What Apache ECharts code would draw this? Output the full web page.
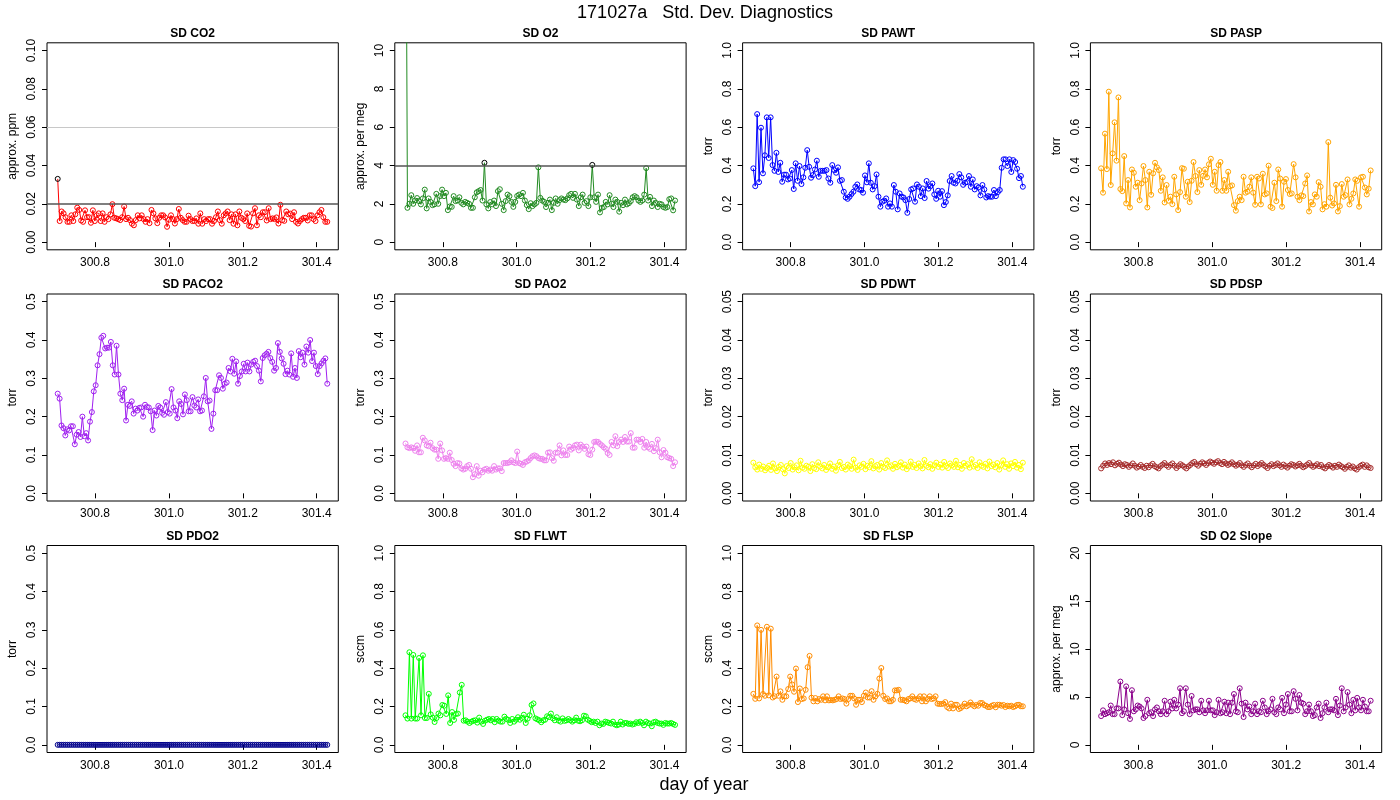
<!DOCTYPE html>
<html>
<head>
<meta charset="utf-8">
<script src="https://cdn.jsdelivr.net/npm/echarts@6/dist/echarts.min.js"></script>
<style>html,body{margin:0;padding:0;background:#fff}#c{width:1400px;height:800px}</style>
</head>
<body>
<div id="c"></div>
<script>
// ---- data ----
const tStart = 300.699, tEnd = 301.4286;   // first / last sample time (day of year)
const xTicks = [300.8, 301.0, 301.2, 301.4];

const co2 = [0.033,0.011,0.016,0.015,0.013,0.0106,0.0106,0.014,0.011,0.0145,0.018,0.0168,0.0113,0.0106,0.0166,0.013,0.013,0.0101,0.0166,0.011,0.014,0.015,0.011,0.015,0.0106,0.013,0.012,0.0145,0.0198,0.0127,0.0124,0.012,0.0115,0.013,0.0186,0.012,0.0127,0.0115,0.0096,0.0088,0.0115,0.014,0.0124,0.014,0.012,0.0106,0.012,0.0099,0.0168,0.015,0.0124,0.0099,0.0127,0.014,0.014,0.0129,0.008,0.0117,0.014,0.012,0.0097,0.012,0.0173,0.0127,0.0115,0.0106,0.0106,0.0138,0.012,0.011,0.011,0.0124,0.0096,0.015,0.0096,0.012,0.011,0.012,0.012,0.0096,0.011,0.013,0.016,0.0115,0.0096,0.014,0.015,0.016,0.0115,0.0145,0.0096,0.0145,0.0088,0.016,0.0127,0.012,0.011,0.015,0.0085,0.0081,0.015,0.0177,0.0088,0.014,0.013,0.0156,0.0156,0.0113,0.0177,0.012,0.0124,0.012,0.0129,0.0097,0.0195,0.0115,0.0111,0.016,0.0145,0.0149,0.012,0.0156,0.0106,0.0097,0.011,0.012,0.0127,0.0127,0.0113,0.014,0.014,0.012,0.011,0.014,0.0156,0.0168,0.013,0.0106,0.0106];
const co2Limits = [0.02, 0.0635];

const o2 = [25,1.79,2.0,2.45,2.0,2.17,2.3,2.14,1.97,2.28,2.74,1.76,2.28,2.1,1.93,1.97,2.52,2.0,2.4,2.74,2.4,2.57,1.67,1.86,1.84,2.4,2.14,2.17,2.34,2.05,1.97,2.1,2.05,2.0,1.79,1.79,2.34,2.6,2.66,2.72,2.17,4.14,1.97,1.76,2.09,1.97,2.17,1.88,2.66,2.76,2.0,1.67,2.14,2.48,2.4,2.1,1.84,2.1,2.41,2.48,2.4,2.57,2.17,1.93,1.72,2.03,1.88,1.97,2.05,3.9,2.31,2.17,2.1,1.83,2.05,2.22,1.67,2.05,2.28,2.0,2.19,2.28,2.22,2.19,2.28,2.45,2.52,2.31,2.52,2.22,1.88,2.34,2.48,2.05,2.14,1.88,2.34,4.03,2.34,2.1,2.48,1.55,1.79,1.83,2.1,1.97,2.45,2.0,1.83,2.22,2.1,1.59,2.05,1.93,2.22,1.97,2.03,2.14,2.34,2.4,2.34,2.17,2.1,2.17,2.48,3.86,2.17,2.36,1.88,2.17,2.05,1.83,2.0,1.97,1.83,1.79,1.83,2.24,2.28,1.66,2.17];
const o2Limits = [4];

const pawt = [0.385,0.292,0.668,0.313,0.597,0.359,0.453,0.651,0.439,0.651,0.402,0.372,0.466,0.366,0.414,0.315,0.352,0.352,0.327,0.332,0.376,0.277,0.411,0.32,0.397,0.303,0.338,0.388,0.48,0.393,0.336,0.35,0.379,0.425,0.341,0.372,0.372,0.372,0.376,0.332,0.31,0.402,0.376,0.362,0.39,0.32,0.324,0.263,0.233,0.226,0.237,0.251,0.263,0.289,0.301,0.275,0.272,0.258,0.348,0.312,0.411,0.31,0.275,0.292,0.353,0.237,0.185,0.211,0.216,0.228,0.185,0.202,0.185,0.298,0.263,0.171,0.254,0.237,0.233,0.219,0.153,0.225,0.275,0.28,0.211,0.301,0.289,0.24,0.28,0.23,0.319,0.279,0.292,0.306,0.249,0.226,0.268,0.237,0.266,0.193,0.209,0.244,0.319,0.345,0.31,0.306,0.32,0.355,0.338,0.299,0.31,0.313,0.345,0.289,0.327,0.275,0.292,0.285,0.244,0.298,0.275,0.233,0.24,0.237,0.237,0.272,0.24,0.261,0.272,0.388,0.432,0.432,0.397,0.432,0.366,0.428,0.418,0.383,0.334,0.345,0.289];

const pasp = [0.385,0.258,0.566,0.381,0.785,0.298,0.463,0.625,0.425,0.755,0.277,0.266,0.449,0.202,0.324,0.181,0.379,0.362,0.289,0.31,0.219,0.306,0.397,0.324,0.181,0.367,0.247,0.359,0.414,0.39,0.376,0.268,0.338,0.207,0.298,0.216,0.237,0.198,0.341,0.249,0.167,0.261,0.386,0.383,0.237,0.315,0.209,0.32,0.418,0.345,0.261,0.376,0.299,0.346,0.379,0.338,0.406,0.435,0.299,0.367,0.268,0.402,0.418,0.268,0.324,0.268,0.367,0.292,0.296,0.193,0.164,0.214,0.237,0.219,0.341,0.258,0.263,0.289,0.338,0.258,0.195,0.341,0.332,0.197,0.357,0.249,0.254,0.399,0.185,0.178,0.31,0.214,0.379,0.332,0.185,0.315,0.329,0.272,0.251,0.254,0.407,0.338,0.237,0.219,0.244,0.24,0.306,0.348,0.16,0.209,0.197,0.249,0.237,0.313,0.289,0.171,0.198,0.185,0.522,0.232,0.191,0.202,0.299,0.16,0.188,0.303,0.237,0.245,0.327,0.197,0.226,0.254,0.327,0.32,0.185,0.338,0.341,0.285,0.249,0.279,0.374];

const paco2 = [0.26,0.247,0.177,0.17,0.151,0.167,0.164,0.175,0.175,0.128,0.153,0.16,0.147,0.2,0.149,0.157,0.138,0.187,0.212,0.266,0.282,0.334,0.363,0.406,0.411,0.378,0.38,0.38,0.395,0.334,0.31,0.385,0.31,0.26,0.243,0.273,0.19,0.231,0.228,0.24,0.208,0.221,0.216,0.223,0.224,0.2,0.231,0.225,0.224,0.214,0.165,0.216,0.203,0.228,0.224,0.21,0.205,0.238,0.212,0.208,0.272,0.224,0.216,0.196,0.24,0.233,0.206,0.258,0.243,0.214,0.214,0.251,0.229,0.224,0.245,0.214,0.216,0.253,0.301,0.24,0.242,0.168,0.208,0.269,0.269,0.308,0.301,0.273,0.286,0.289,0.327,0.318,0.351,0.312,0.344,0.286,0.306,0.318,0.338,0.318,0.341,0.318,0.336,0.343,0.346,0.332,0.32,0.292,0.353,0.36,0.364,0.369,0.353,0.343,0.32,0.327,0.392,0.369,0.352,0.338,0.311,0.32,0.31,0.365,0.304,0.327,0.301,0.371,0.355,0.367,0.336,0.383,0.367,0.4,0.345,0.367,0.332,0.311,0.332,0.339,0.346,0.352,0.286];

const pao2 = [0.13,0.12,0.118,0.12,0.118,0.111,0.125,0.107,0.107,0.145,0.138,0.125,0.123,0.132,0.118,0.114,0.114,0.09,0.13,0.112,0.09,0.092,0.09,0.106,0.087,0.077,0.071,0.079,0.078,0.065,0.062,0.064,0.071,0.074,0.064,0.042,0.05,0.071,0.046,0.059,0.055,0.062,0.064,0.059,0.062,0.059,0.071,0.062,0.065,0.065,0.058,0.079,0.079,0.079,0.081,0.086,0.081,0.079,0.109,0.079,0.077,0.074,0.081,0.083,0.086,0.092,0.097,0.099,0.097,0.092,0.09,0.09,0.086,0.086,0.106,0.107,0.092,0.085,0.106,0.106,0.125,0.099,0.112,0.1,0.1,0.122,0.114,0.118,0.125,0.127,0.112,0.127,0.122,0.116,0.122,0.102,0.1,0.114,0.134,0.135,0.134,0.129,0.125,0.12,0.116,0.105,0.1,0.134,0.125,0.149,0.123,0.134,0.14,0.134,0.147,0.135,0.135,0.157,0.119,0.119,0.14,0.14,0.134,0.142,0.119,0.134,0.12,0.116,0.129,0.11,0.118,0.14,0.107,0.094,0.113,0.106,0.094,0.092,0.09,0.071,0.081];

const pdwt = [0.008,0.0068,0.0062,0.0075,0.0064,0.007,0.006,0.0066,0.0072,0.0061,0.0078,0.0065,0.0058,0.0069,0.0074,0.0063,0.0052,0.0071,0.0066,0.0079,0.0062,0.0068,0.0073,0.006,0.0085,0.0067,0.0064,0.0072,0.0069,0.0058,0.0076,0.0066,0.0063,0.0081,0.007,0.0065,0.0074,0.0061,0.0068,0.0078,0.0064,0.007,0.0059,0.0073,0.0082,0.0066,0.0069,0.0062,0.0075,0.0071,0.0064,0.0088,0.0067,0.0061,0.0073,0.0069,0.0077,0.0063,0.0072,0.0068,0.0084,0.0065,0.0071,0.0074,0.0062,0.0079,0.0069,0.0066,0.0086,0.007,0.0073,0.0064,0.0077,0.0068,0.0072,0.0081,0.0067,0.0075,0.0063,0.007,0.0083,0.0069,0.0074,0.0066,0.0078,0.0071,0.0065,0.0087,0.0072,0.0068,0.0076,0.0064,0.0073,0.008,0.0069,0.0075,0.0067,0.0082,0.0071,0.0066,0.0078,0.0073,0.0069,0.0085,0.0068,0.0074,0.0064,0.0079,0.0072,0.0076,0.0067,0.0089,0.007,0.0074,0.0066,0.0081,0.0072,0.0069,0.0077,0.0065,0.0083,0.0071,0.0075,0.0068,0.0079,0.0062,0.0073,0.0086,0.0069,0.0076,0.0064,0.0078,0.0071,0.0082,0.0067,0.0074,0.0063,0.008];

const pdsp = [0.0065,0.0072,0.0078,0.0074,0.0079,0.0076,0.0081,0.0073,0.0077,0.008,0.0075,0.0071,0.0076,0.0074,0.0069,0.0073,0.0078,0.0072,0.0067,0.007,0.0074,0.0069,0.0066,0.0072,0.0068,0.0073,0.0077,0.0071,0.0068,0.0065,0.0071,0.0075,0.0079,0.0073,0.0069,0.0074,0.0078,0.0072,0.0066,0.0071,0.0076,0.0073,0.0069,0.0065,0.007,0.0074,0.0079,0.0082,0.0076,0.0072,0.0077,0.0081,0.0078,0.0074,0.0079,0.0083,0.008,0.0077,0.0081,0.0084,0.0079,0.0076,0.0082,0.0078,0.0074,0.0077,0.0081,0.0076,0.0072,0.0075,0.0079,0.0073,0.0069,0.0074,0.0078,0.0072,0.0068,0.0073,0.0077,0.0071,0.0075,0.0079,0.0074,0.007,0.0066,0.0072,0.0076,0.0071,0.0074,0.0078,0.0073,0.0069,0.0075,0.0071,0.0067,0.0072,0.0076,0.0074,0.007,0.0073,0.0077,0.0072,0.0068,0.0071,0.0075,0.0079,0.0073,0.0069,0.0072,0.0076,0.0071,0.0074,0.0068,0.0065,0.007,0.0074,0.0071,0.0067,0.0072,0.0069,0.0075,0.0071,0.0068,0.0064,0.0069,0.0073,0.0067,0.007,0.0065,0.0062,0.0068,0.0072,0.0075,0.0069,0.0073,0.0068,0.0066];

const pdo2 = [0,0,0,0,0,0,0,0,0,0,0,0,0,0,0,0,0,0,0,0,0,0,0,0,0,0,0,0,0,0,0,0,0,0,0,0,0,0,0,0,0,0,0,0,0,0,0,0,0,0,0,0,0,0,0,0,0,0,0,0,0,0,0,0,0,0,0,0,0,0,0,0,0,0,0,0,0,0,0,0,0,0,0,0,0,0,0,0,0,0,0,0,0,0,0,0,0,0,0,0,0,0,0,0,0,0,0,0,0,0,0,0,0,0,0,0,0,0,0,0,0,0,0,0,0,0,0,0,0,0,0,0,0,0,0,0,0,0];

const flwt = [0.154,0.137,0.483,0.137,0.469,0.137,0.137,0.453,0.154,0.467,0.14,0.14,0.266,0.159,0.142,0.119,0.14,0.163,0.154,0.208,0.204,0.161,0.258,0.114,0.171,0.13,0.161,0.163,0.273,0.313,0.126,0.128,0.121,0.114,0.121,0.126,0.128,0.116,0.142,0.121,0.109,0.126,0.131,0.135,0.128,0.135,0.118,0.135,0.126,0.121,0.121,0.147,0.135,0.13,0.114,0.135,0.121,0.131,0.144,0.131,0.14,0.157,0.114,0.137,0.154,0.208,0.216,0.138,0.133,0.128,0.118,0.128,0.131,0.149,0.145,0.163,0.138,0.128,0.144,0.126,0.121,0.138,0.125,0.128,0.135,0.128,0.121,0.128,0.142,0.126,0.123,0.128,0.152,0.149,0.131,0.125,0.118,0.121,0.114,0.121,0.102,0.111,0.109,0.121,0.118,0.114,0.111,0.121,0.106,0.102,0.106,0.121,0.106,0.114,0.114,0.109,0.111,0.106,0.109,0.118,0.114,0.121,0.114,0.102,0.121,0.114,0.111,0.097,0.118,0.121,0.114,0.111,0.111,0.104,0.114,0.111,0.111,0.114,0.109,0.104];

const flsp = [0.266,0.24,0.623,0.242,0.6,0.265,0.256,0.616,0.258,0.606,0.247,0.253,0.356,0.256,0.279,0.235,0.253,0.253,0.291,0.356,0.315,0.277,0.398,0.223,0.294,0.239,0.242,0.287,0.405,0.464,0.246,0.227,0.244,0.227,0.239,0.235,0.253,0.232,0.253,0.232,0.234,0.232,0.235,0.239,0.253,0.239,0.242,0.239,0.215,0.239,0.256,0.256,0.242,0.209,0.235,0.235,0.223,0.256,0.273,0.247,0.247,0.28,0.235,0.253,0.266,0.346,0.401,0.256,0.239,0.242,0.227,0.227,0.235,0.284,0.284,0.287,0.235,0.235,0.232,0.227,0.239,0.242,0.253,0.239,0.235,0.242,0.253,0.227,0.253,0.227,0.239,0.253,0.239,0.242,0.253,0.215,0.213,0.213,0.215,0.223,0.197,0.19,0.215,0.19,0.209,0.209,0.187,0.192,0.201,0.215,0.201,0.208,0.221,0.209,0.201,0.208,0.204,0.218,0.218,0.208,0.204,0.197,0.197,0.204,0.208,0.196,0.209,0.209,0.204,0.208,0.197,0.204,0.201,0.204,0.197,0.201,0.208,0.209,0.201,0.201];

const o2slope = [3.0,3.6,3.2,3.3,3.4,4.1,3.2,3.2,3.8,3.8,6.6,3.1,3.7,6.1,3.3,2.7,5.7,3.5,3.7,4.1,4.0,3.8,2.8,3.0,4.7,3.3,3.4,3.0,3.7,3.9,3.5,3.2,3.5,4.6,3.2,3.5,4.5,3.8,4.7,3.8,4.2,5.9,3.3,3.5,5.9,4.2,3.2,5.1,3.6,3.7,3.7,3.4,4.6,3.6,3.3,3.6,4.6,3.6,3.6,3.1,3.4,4.7,3.3,3.4,4.5,3.3,4.4,3.2,4.4,5.3,3.5,3.4,5.9,4.3,2.9,4.4,3.7,4.0,3.2,3.5,4.3,3.2,3.5,3.4,4.6,3.9,3.2,3.5,3.7,4.8,3.4,3.2,3.9,3.7,4.9,3.3,4.2,5.3,3.5,3.5,5.6,4.8,3.6,5.2,4.4,4.3,3.2,3.5,4.2,3.5,3.0,3.1,3.9,4.3,2.8,3.3,3.9,4.4,3.4,3.7,3.7,3.6,4.8,3.1,4.1,5.9,3.5,3.9,5.5,4.2,3.3,4.7,3.6,4.9,3.9,3.6,4.7,4.0,3.5,3.5,4.6];

// y tick labels per panel
const ticksCO2 = [0, 0.02, 0.04, 0.06, 0.08, 0.10];
const ticksO2 = [0, 2, 4, 6, 8, 10];
const ticksUnit = [0, 0.2, 0.4, 0.6, 0.8, 1.0];
const ticksHalf = [0, 0.1, 0.2, 0.3, 0.4, 0.5];
const ticksSmall = [0, 0.01, 0.02, 0.03, 0.04, 0.05];
const ticksSlope = [0, 5, 10, 15, 20];

// ---- chart building ----
const FONT = "'Liberation Sans', Arial, Helvetica, sans-serif";
const panels = [
  {title:'SD CO2', d:co2, col:'#FF0000', ticks:ticksCO2, dec:2, ylab:'approx. ppm', lim:co2Limits},
  {title:'SD O2', d:o2, col:'#228B22', ticks:ticksO2, dec:0, ylab:'approx. per meg', lim:o2Limits},
  {title:'SD PAWT', d:pawt, col:'#0000FF', ticks:ticksUnit, dec:1, ylab:'torr'},
  {title:'SD PASP', d:pasp, col:'#FFA500', ticks:ticksUnit, dec:1, ylab:'torr'},
  {title:'SD PACO2', d:paco2, col:'#A020F0', ticks:ticksHalf, dec:1, ylab:'torr'},
  {title:'SD PAO2', d:pao2, col:'#EE82EE', ticks:ticksHalf, dec:1, ylab:'torr'},
  {title:'SD PDWT', d:pdwt, col:'#FFFF00', ticks:ticksSmall, dec:2, ylab:'torr'},
  {title:'SD PDSP', d:pdsp, col:'#A52A2A', ticks:ticksSmall, dec:2, ylab:'torr'},
  {title:'SD PDO2', d:pdo2, col:'#00008B', ticks:ticksHalf, dec:1, ylab:'torr'},
  {title:'SD FLWT', d:flwt, col:'#00FF00', ticks:ticksUnit, dec:1, ylab:'sccm'},
  {title:'SD FLSP', d:flsp, col:'#FF8C00', ticks:ticksUnit, dec:1, ylab:'sccm'},
  {title:'SD O2 Slope', d:o2slope, col:'#8B008B', ticks:ticksSlope, dec:0, ylab:'approx. per meg'}
];

const colLeft = 47, colPitch = 347.8, boxW = 291.3, boxH = 207;
const rowTops = [42.8, 294, 545.5];
const xMin = 300.670, xMax = 301.4585;

const grid = [], xAxis = [], yAxis = [], series = [];
const titles = [
  {text:'171027a   Std. Dev. Diagnostics', left:705, top:4, padding:0, textAlign:'center',
   textStyle:{fontFamily:FONT, fontSize:18, fontWeight:'normal', color:'#000'}},
  {text:'day of year', left:704, top:776, padding:0, textAlign:'center',
   textStyle:{fontFamily:FONT, fontSize:18, fontWeight:'normal', color:'#000'}}
];

panels.forEach((p, k) => {
  const c = k % 4, r = Math.floor(k / 4);
  const left = colLeft + c * colPitch, top = rowTops[r];
  grid.push({left:left, top:top, width:boxW, height:boxH, show:true,
             borderColor:'#000', borderWidth:1, backgroundColor:'transparent', containLabel:false});
  titles.push({text:p.title, left:left + boxW / 2, top:top - 15, padding:0, textAlign:'center',
               textStyle:{fontFamily:FONT, fontSize:12, fontWeight:'bold', color:'#000'}});
  xAxis.push({type:'value', gridIndex:k, min:xMin, max:xMax,
    axisLine:{show:false}, splitLine:{show:false},
    axisTick:{show:true, length:5, customValues:xTicks, lineStyle:{color:'#000'}},
    axisLabel:{show:true, customValues:xTicks, margin:7, fontFamily:FONT, fontSize:12, color:'#000',
               formatter:v => v.toFixed(1)}});
  const ymax = p.ticks[p.ticks.length - 1];
  yAxis.push({type:'value', gridIndex:k, min:-0.04 * ymax, max:1.04 * ymax,
    axisLine:{show:false}, splitLine:{show:false},
    axisTick:{show:true, length:5, customValues:p.ticks, lineStyle:{color:'#000'}},
    axisLabel:{show:true, customValues:p.ticks, rotate:90, margin:9, fontFamily:FONT, fontSize:12, color:'#000',
               formatter:v => v.toFixed(p.dec)},
    name:p.ylab, nameLocation:'middle', nameGap:28, nameRotate:90,
    nameTextStyle:{fontFamily:FONT, fontSize:12, color:'#000'}});
  const n = p.d.length;
  const lim = p.lim ? p.lim[0] : Infinity;
  const data = p.d.map((v, i) => {
    const t = tStart + i * (tEnd - tStart) / (n - 1);
    return v > lim ? {value:[t, v], itemStyle:{borderColor:'#000'}} : [t, v];
  });
  const s = {type:'line', xAxisIndex:k, yAxisIndex:k, data:data, symbol:'circle', symbolSize:5,
    showAllSymbol:true, clip:true, silent:true, animation:false,
    lineStyle:{color:p.col, width:1},
    itemStyle:{color:'rgba(0,0,0,0)', borderColor:p.col, borderWidth:1}};
  if (p.lim) {
    s.markLine = {silent:true, symbol:['none','none'], label:{show:false}, animation:false,
      data:p.lim.map((y, j) => ({yAxis:y, lineStyle:{type:'solid', color: j === 0 ? '#555' : '#c8c8c8', width: j === 0 ? 1.5 : 1}}))};
  }
  series.push(s);
});

const chart = echarts.init(document.getElementById('c'), null, {renderer:'canvas'});
chart.setOption({animation:false, backgroundColor:'#fff', textStyle:{fontFamily:FONT},
  title:titles, grid:grid, xAxis:xAxis, yAxis:yAxis, series:series});
</script>
</body>
</html>
